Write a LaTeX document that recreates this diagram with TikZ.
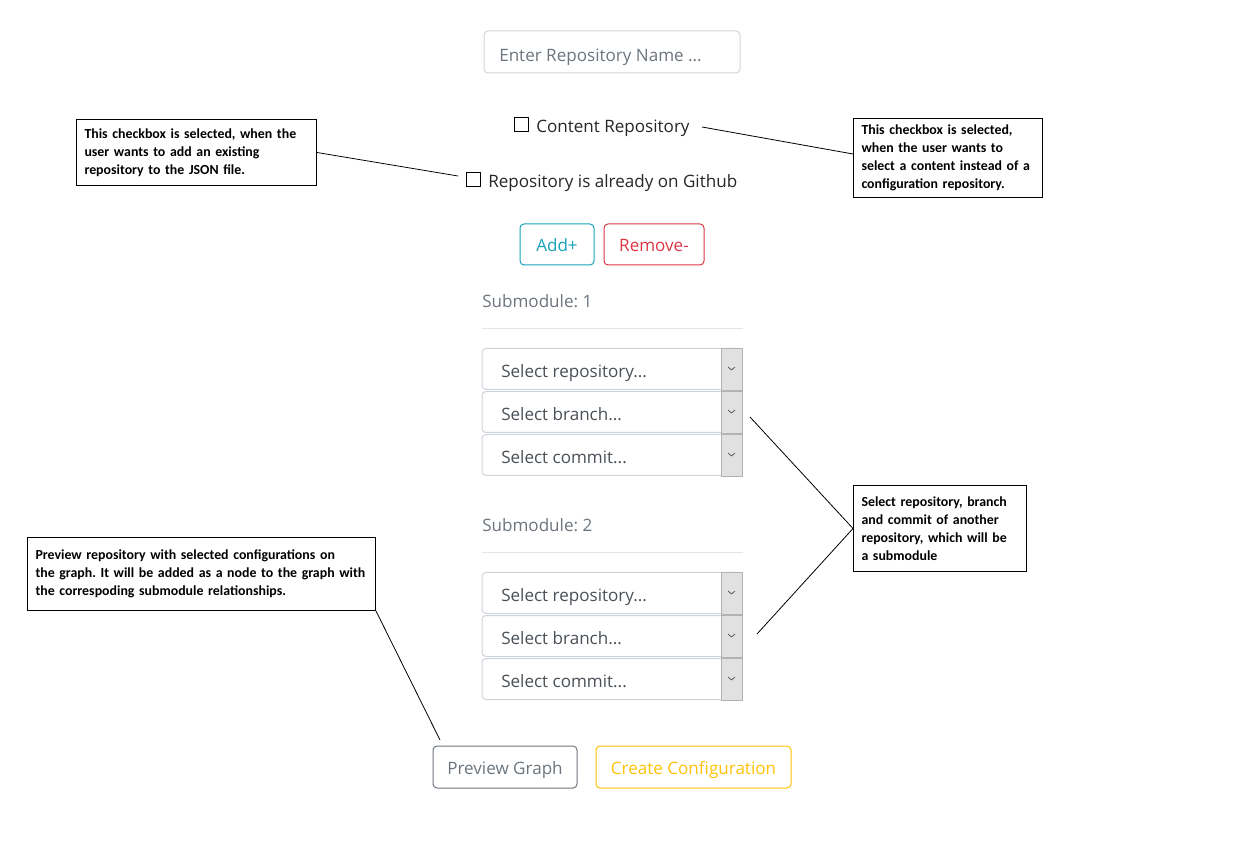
\documentclass[tikz,border=0pt]{standalone}
\usepackage{fontspec}
\setmainfont{Open Sans}
\newfontfamily\notefont{Carlito}
\definecolor{phgray}{HTML}{6C757D}
\definecolor{seltext}{HTML}{495057}
\definecolor{bordergray}{HTML}{CED4DA}
\definecolor{hrgray}{HTML}{E5E5E5}
\definecolor{dropgray}{HTML}{E1E1E1}
\definecolor{addteal}{HTML}{17A2B8}
\definecolor{remred}{HTML}{DC3545}
\definecolor{createyel}{HTML}{FFC107}
\frenchspacing
\begin{document}
\begin{tikzpicture}[x=0.75pt,y=-0.75pt,
  ui/.style={font=\fontsize{12.8}{15}\selectfont, text height=12pt, text depth=1pt},
  btn/.style={ui, draw, rounded corners=3pt, line width=0.75pt, minimum height=30.75pt},
  selbox/.style={draw=bordergray, line width=0.75pt, rounded corners=3pt, minimum width=195pt, minimum height=31.5pt},
  note/.style={draw, line width=0.75pt, anchor=north west, align=left, inner xsep=6pt,
    font=\notefont\bfseries\fontsize{10.4}{13.5}\selectfont},
  link/.style={line width=0.6pt}]
  \useasboundingbox (0,0) rectangle (1239,862);

  \node[selbox, minimum width=192pt] (name) at (612,52) {};
  \node[ui, text=phgray, anchor=west, inner sep=0] (nametxt) at (499,54) {Enter Repository Name ...};

  \node[draw, line width=0.6pt, minimum size=10.5pt, inner sep=0] (cb1) at (521,124) {};
  \node[ui, text=black!85, anchor=west, inner sep=0] (cont) at (536,125) {Content Repository};
  \node[draw, line width=0.6pt, minimum size=10.5pt, inner sep=0] (cb2) at (473,179) {};
  \node[ui, text=black!85, anchor=west, inner sep=0] (github) at (488,180) {Repository is already on Github};

  \node[btn, draw=addteal, text=addteal, minimum width=55.5pt] (add) at (557,244.5) {Add+};
  \node[btn, draw=remred, text=remred, minimum width=75pt] (remove) at (654,244.5) {Remove-};

  \foreach \s/\top in {1/300, 2/524} {
    \node[ui, text=phgray, anchor=west, inner sep=0] (sub\s) at (482,\top) {Submodule: \s};
    \draw[hrgray, line width=0.75pt] (482,\top+29) -- (743,\top+29);
    \foreach \r/\lab in {0/repository, 1/branch, 2/commit} {
      \node[selbox, minimum height=30.75pt] (sel\s\r) at (612,\top+69+43*\r) {};
      \fill[dropgray, draw=black!30, line width=0.5pt]
        ([xshift=-15.75pt]sel\s\r.north east) rectangle (sel\s\r.south east);
      \draw[black!70, line width=0.5pt] (728,\top+67+43*\r) -- (731.5,\top+70+43*\r) -- (735,\top+67+43*\r);
      \node[ui, text=seltext, anchor=west, inner sep=0] (seltxt\s\r) at (501,\top+70+43*\r) {Select \lab...};
    }
  }

  \node[btn, draw=phgray, text=phgray, minimum width=108pt, minimum height=31.5pt] (preview) at (505,767) {Preview Graph};
  \node[btn, draw=createyel, text=createyel, minimum width=146.25pt, minimum height=31.5pt] (create) at (693.5,767) {Create Configuration};

  \node[note, text width=168pt, minimum height=49.5pt] (note1) at (76,119)
    {This checkbox is selected, when the\\user wants to add an existing\\repository to the JSON file.};
  \node[note, text width=129.75pt, minimum height=59.25pt] (note2) at (853,118)
    {This checkbox is selected,\\when the user wants to\\select a content instead of a\\configuration repository.};
  \node[note, text width=117.75pt, minimum height=64.5pt] (note3) at (853,485)
    {Select repository, branch\\and commit of another\\repository, which will be\\a submodule};
  \node[note, text width=249pt, minimum height=54.75pt] (note4) at (27,537)
    {Preview repository with selected configurations on\\the graph. It will be added as a node to the graph with\\the correspoding submodule relationships.};

  \coordinate (ghend) at (458,176);
  \coordinate (contend) at (702,127);
  \coordinate (br1) at (750,417);
  \coordinate (br2) at (757,634);
  \coordinate (prevend) at (440,740);
  \draw[link] (note1.east) -- (ghend);
  \draw[link] (contend) -- ([yshift=3pt]note2.west);
  \draw[link] (br1) -- (note3.west) -- (br2);
  \draw[link] (note4.south east) -- (prevend);
\end{tikzpicture}
\end{document}
